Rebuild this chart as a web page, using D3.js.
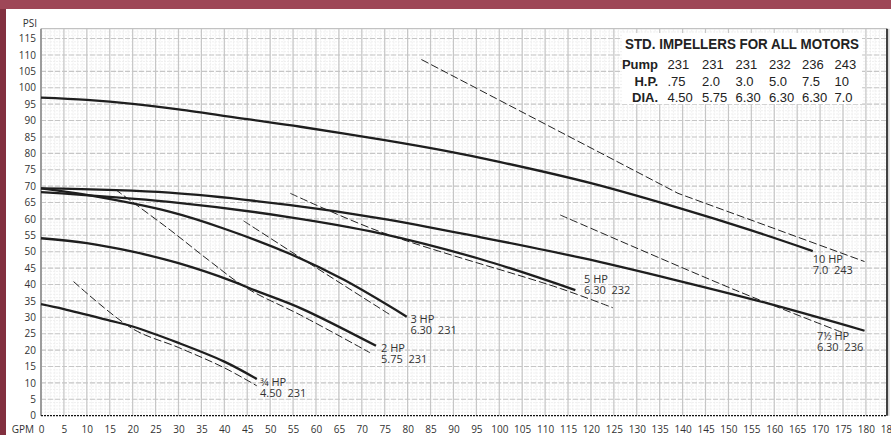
<!DOCTYPE html>
<html>
<head>
<meta charset="utf-8">
<script src="https://cdn.jsdelivr.net/npm/d3@7"></script>
<style>
  body { margin: 0; background: #fff; }
  svg { display: block; }
  .tick text { font-family: "Open Sans", sans-serif; font-size: 10px; fill: #333; }
  .lbl { font-family: "Open Sans", sans-serif; font-size: 11px; fill: #333; white-space: pre; }
  .tbl { font-family: "Liberation Sans", Arial, sans-serif; fill: #222; }
</style>
</head>
<body>
<div id="chart"></div>
<script>
  // pump curves, [gpm, psi]
  var hp10 = [[0,97],[10,96.3],[20,95.1],[30,93.4],[45,90.4],[56.6,88.1],[75,84],[88,80.8],[100,77.4],[120,70.9],[139.5,63.2],[155,56.5],[168.4,50.2]];
  var hp75 = [[0,69.3],[28,68],[54.4,64.2],[74,60.2],[96,54.4],[118,48.1],[138,41.5],[158.4,34.3],[179.7,25.9]];
  var hp5  = [[0,68.2],[28,65.2],[54.4,60.5],[74,55.6],[96,47.7],[116.6,38.3]];
  var hp3  = [[0,69.3],[10,67.3],[28,62.2],[40,57],[54.4,49.3],[66,41.5],[79.8,30.2]];
  var hp2  = [[0,54.1],[10,52.6],[20,50],[30,46.5],[42,40.9],[46.7,38.2],[56.6,32.8],[73.1,21.3]];
  var hp34 = [[0,34],[5,32.5],[15,29],[20,27.2],[30,22.2],[40,16.5],[47.1,11.2]];

  // dashed limit lines
  var lim10 = [[83,108.6],[139,67.8],[179.7,47]];
  var lim75 = [[113.3,61.2],[151.5,38.3],[174.8,25.4]];
  var lim5  = [[54.4,67.8],[74,56.1],[113.3,38.8],[124.8,32.9]];
  var lim3  = [[44.2,59.4],[56.6,48.2],[76.6,30.4]];
  var lim2  = [[16.2,69],[28.2,56.6],[36.5,47.5],[45,38.8],[56.6,30.7],[71.8,19.2]];
  var lim34 = [[7.1,40.9],[20,26.5],[30,20.8],[40,14.6],[47.1,9.1]];

  // curve labels: text lines and the [gpm, psi] point they start at
  var curveLabels = [
    {lines: ["10 HP", "7.0  243"], at: [168.4, 46.7]},
    {lines: ["7½ HP", "6.30  236"], at: [169.3, 23.2]},
    {lines: ["5 HP", "6.30  232"], at: [118.5, 40.6]},
    {lines: ["3 HP", "6.30  231"], at: [80.6, 28.2]},
    {lines: ["2 HP", "5.75  231"], at: [74.2, 19.5]},
    {lines: ["¾ HP", "4.50  231"], at: [47.8, 9.2]}
  ];

  // table of standard impellers
  var tblTitle = "STD. IMPELLERS FOR ALL MOTORS";
  var pumps = ["231", "231", "231", "232", "236", "243"];
  var hps   = [".75", "2.0", "3.0", "5.0", "7.5", "10"];
  var dias  = ["4.50", "5.75", "6.30", "6.30", "6.30", "7.0"];

  var xTicks = d3.range(0, 186, 5);
  var yTicks = d3.range(0, 116, 5);

  var W = 891, H = 435;
  var svg = d3.select("#chart").append("svg")
      .attr("width", W).attr("height", H);

  // maroon frame
  svg.append("rect").attr("width", W).attr("height", H).attr("fill", "#9e4757");
  svg.append("rect").attr("x", 0).attr("y", 9).attr("width", 6).attr("height", H - 9).attr("fill", "#82303f");
  svg.append("rect").attr("x", 6).attr("y", 9).attr("width", W - 6).attr("height", H - 9).attr("fill", "#fff");

  var x = d3.scaleLinear().domain([0, 184.6]).range([41, 887]);
  var y = d3.scaleLinear().domain([0, 118]).range([415.7, 28.7]);

  var grid = svg.append("g");
  // minor grid every 1 unit
  grid.selectAll(".vmin").data(d3.range(1, 185)).enter().append("line")
      .attr("x1", x).attr("x2", x).attr("y1", y(0)).attr("y2", y(118))
      .attr("stroke", "#ececec").attr("stroke-width", 0.8).attr("stroke-dasharray", "2,1");
  grid.selectAll(".hmin").data(d3.range(1, 118)).enter().append("line")
      .attr("x1", x(0)).attr("x2", x(184.6)).attr("y1", y).attr("y2", y)
      .attr("stroke", "#ececec").attr("stroke-width", 0.8).attr("stroke-dasharray", "2,1");
  // major grid every 5
  grid.selectAll(".vmaj").data(xTicks.filter(function(d) { return d > 0; })).enter().append("line")
      .attr("x1", x).attr("x2", x).attr("y1", y(0)).attr("y2", y(118))
      .attr("stroke", "#c6c6c6").attr("stroke-width", 1.2);
  grid.selectAll(".hmaj").data(yTicks.filter(function(d) { return d > 0; })).enter().append("line")
      .attr("x1", x(0)).attr("x2", x(184.6)).attr("y1", y).attr("y2", y)
      .attr("stroke", "#c6c6c6").attr("stroke-width", 1.1).attr("stroke-dasharray", "5,2");
  // top edge
  grid.append("line").attr("x1", x(0)).attr("x2", x(184.6)).attr("y1", y(118)).attr("y2", y(118))
      .attr("stroke", "#c2c2c2").attr("stroke-width", 1.2);

  // table background covers the grid
  svg.append("rect").attr("x", 622).attr("y", 33).attr("width", 240).attr("height", 71).attr("fill", "#fff");

  // axes
  var yAxis = svg.append("g").attr("transform", "translate(" + x(0) + ",0)")
      .call(d3.axisLeft(y).tickValues(yTicks).tickSize(0).tickPadding(5));
  yAxis.select(".domain").remove();
  var xAxis = svg.append("g").attr("transform", "translate(0," + y(0) + ")")
      .call(d3.axisBottom(x).tickValues(xTicks).tickSize(0).tickPadding(10));
  xAxis.select(".domain").remove();

  svg.append("line").attr("x1", x(0)).attr("x2", x(0)).attr("y1", y(0)).attr("y2", y(118))
      .attr("stroke", "#9c9c9c").attr("stroke-width", 2);
  svg.append("line").attr("x1", x(184.6)).attr("x2", x(184.6)).attr("y1", y(0)).attr("y2", y(118))
      .attr("stroke", "#111").attr("stroke-width", 1.6);
  svg.append("line").attr("x1", x(0)).attr("x2", x(184.6)).attr("y1", y(0)).attr("y2", y(0))
      .attr("stroke", "#111").attr("stroke-width", 1.2).attr("stroke-dasharray", "2,1");

  svg.append("text").attr("class", "lbl").attr("x", 37).attr("y", 26.7)
      .attr("text-anchor", "end").style("font-size", "10px").text("PSI");
  svg.append("text").attr("class", "lbl").attr("x", 34).attr("y", 433)
      .attr("text-anchor", "end").style("font-size", "10px").text("GPM");

  // curves
  var line = d3.line()
      .x(function(d) { return x(d[0]); })
      .y(function(d) { return y(d[1]); })
      .curve(d3.curveCatmullRom.alpha(0.5));
  var straight = d3.line()
      .x(function(d) { return x(d[0]); })
      .y(function(d) { return y(d[1]); });

  [lim10, lim75, lim5, lim3, lim2, lim34].forEach(function(d, i) {
    svg.append("path").datum(d)
        .attr("d", i === 0 ? straight : line)
        .attr("fill", "none").attr("stroke", "#222").attr("stroke-width", 1)
        .attr("stroke-dasharray", "8,3");
  });

  [hp10, hp75, hp5, hp3, hp2, hp34].forEach(function(d) {
    svg.append("path").datum(d)
        .attr("d", line)
        .attr("fill", "none").attr("stroke", "#1e1e1e").attr("stroke-width", 2.3);
  });

  // curve labels
  curveLabels.forEach(function(c) {
    c.lines.forEach(function(s, i) {
      svg.append("text").attr("class", "lbl")
          .attr("x", x(c.at[0])).attr("y", y(c.at[1]) + i * 11)
          .attr("xml:space", "preserve").text(s);
    });
  });

  // impeller table
  var colX = [667.5, 702, 735.5, 769, 802, 834.5];
  svg.append("text").attr("class", "tbl").attr("x", 625).attr("y", 48.5)
      .attr("textLength", 234).attr("lengthAdjust", "spacingAndGlyphs")
      .style("font-size", "14px").style("font-weight", "bold").text(tblTitle);
  var rows = [["Pump", pumps, 68.5], ["H.P.", hps, 85.5], ["DIA.", dias, 102]];
  rows.forEach(function(r) {
    svg.append("text").attr("class", "tbl").attr("x", 658).attr("y", r[2])
        .attr("text-anchor", "end").style("font-size", "13px").style("font-weight", "bold").text(r[0]);
    svg.selectAll(null).data(r[1]).enter().append("text").attr("class", "tbl")
        .attr("x", function(d, i) { return colX[i]; }).attr("y", r[2])
        .style("font-size", "13px").text(function(d) { return d; });
  });
</script>
</body>
</html>
